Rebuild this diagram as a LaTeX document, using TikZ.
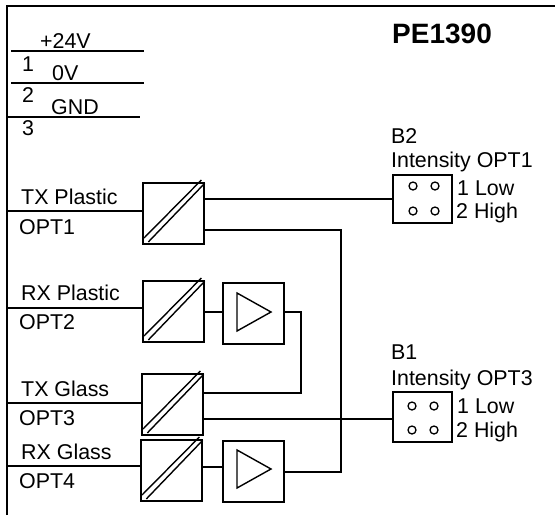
\documentclass[tikz,border=0pt]{standalone}
\usepackage{fontspec}
\setmainfont{Liberation Sans}
\usetikzlibrary{positioning}
\tikzset{
  lbl/.style={inner sep=0pt,anchor=base west,font=\fontsize{21.4}{25}\selectfont},
  convbox/.style={draw,line width=1.4pt,minimum width=61pt,minimum height=61pt,inner sep=0pt},
  ampbox/.style={draw,line width=1.4pt,minimum width=61pt,minimum height=61pt,inner sep=0pt},
  jumpbox/.style={draw,line width=1.4pt,minimum width=59pt,inner sep=0pt},
  pin/.style={draw,circle,line width=1.3pt,minimum size=8pt,inner sep=0pt},
  wire/.style={line width=1.4pt}
}
\begin{document}
\begin{tikzpicture}[x=1pt,y=-1pt]
  \useasboundingbox (0,0) rectangle (555,515);
  \coordinate (tl) at (7,6);
  \coordinate (tr) at (555,6);
  \coordinate (bl) at (7,515);
  \draw [wire] (bl) -- (tl) -- (tr);
  % supply rails
  \draw [wire] (11,51) coordinate (p1) -- (144,51) coordinate (p2);
  \draw [wire] (11,83) coordinate (p3) -- (144,83) coordinate (p4);
  \draw [wire] (7,117) coordinate (p5) -- (140,117) coordinate (p6);
  \node [lbl] (v24) at (40,48.5) {+24V};
  \node [lbl] (n1) at (22,71.5) {1};
  \node [lbl] (v0) at (52,80.5) {0V};
  \node [lbl] (n2) at (22,102.5) {2};
  \node [lbl] (gnd) at (51,114.5) {GND};
  \node [lbl] (n3) at (22,135.5) {3};
  \node [lbl,font=\fontsize{28}{32}\selectfont\bfseries] (title) at (392,43) {PE1390};
  % converters
  \node [convbox] (c1) at (173.5,213.5) {};
  \node [convbox] (c2) at (173.5,311.5) {};
  \node [convbox] (c3) at (172.5,404.5) {};
  \node [convbox] (c4) at (171.5,470.5) {};
  \foreach \c in {c1,c2,c3,c4} {
    \draw [wire] ([xshift=1.7pt,yshift=6.7pt]\c.south west) -- ([xshift=-3.3pt,yshift=2.3pt]\c.north east);
    \draw [wire] ([xshift=6pt,yshift=2.7pt]\c.south west) -- ([xshift=0pt,yshift=-1pt]\c.north east);
  }
  % amplifiers
  \node [ampbox] (a1) at (253.5,313.5) {};
  \node [ampbox] (a2) at (253.5,471.5) {};
  \draw [wire] (237,293) -- (237,331) -- (271,312) -- cycle;
  \draw [wire] (237,450) -- (237,488) -- (271,469) -- cycle;
  % jumpers
  \node [jumpbox,minimum height=48pt] (b2) at (422.5,199) {};
  \node [jumpbox,minimum height=50pt] (b1) at (422.5,417) {};
  \foreach \x in {413,435} {
    \node [pin] at (\x,186) {};
    \node [pin] at (\x,211) {};
    \node [pin] at (\x-1,406) {};
    \node [pin] at (\x-1,430) {};
  }
  \node [lbl] (b2a) at (391,143.5) {B2};
  \node [lbl] (b2b) at (391,167.5) {Intensity OPT1};
  \node [lbl] (b2c) at (457,195.5) {1 Low};
  \node [lbl] (b2d) at (456,218.5) {2 High};
  \node [lbl] (b1a) at (391,359.5) {B1};
  \node [lbl] (b1b) at (391,385.5) {Intensity OPT3};
  \node [lbl] (b1c) at (457,413.5) {1 Low};
  \node [lbl] (b1d) at (456,437.5) {2 High};
  % inputs
  \draw [wire] (7,211) -- (c1.west |- 0,211);
  \draw [wire] (7,308) -- (c2.west |- 0,308);
  \draw [wire] (7,403) -- (c3.west |- 0,403);
  \draw [wire] (7,466) -- (c4.west |- 0,466);
  \node [lbl] (l1) at (21,204.5) {TX Plastic};
  \node [lbl] (o1) at (19,234.5) {OPT1};
  \node [lbl] (l2) at (21,300.5) {RX Plastic};
  \node [lbl] (o2) at (19,329.5) {OPT2};
  \node [lbl] (l3) at (21,396.5) {TX Glass};
  \node [lbl] (o3) at (19,425.5) {OPT3};
  \node [lbl] (l4) at (21,459.5) {RX Glass};
  \node [lbl] (o4) at (19,488.5) {OPT4};
  % outputs
  \draw [wire] (c1.east |- 0,199) -- (b2.west |- 0,199);
  \draw [wire] (c1.east |- 0,230) -- (341,230) -- (341,472) -- (a2.east |- 0,472);
  \draw [wire] (c2.east |- 0,312) -- (a1.west |- 0,312);
  \draw [wire] (c4.east |- 0,467) -- (a2.west |- 0,467);
  \draw [wire] (a1.east |- 0,312) -- (301,312) -- (301,393) -- (c3.east |- 0,393);
  \draw [wire] (c3.east |- 0,419) -- (b1.west |- 0,419);
\end{tikzpicture}
\end{document}
